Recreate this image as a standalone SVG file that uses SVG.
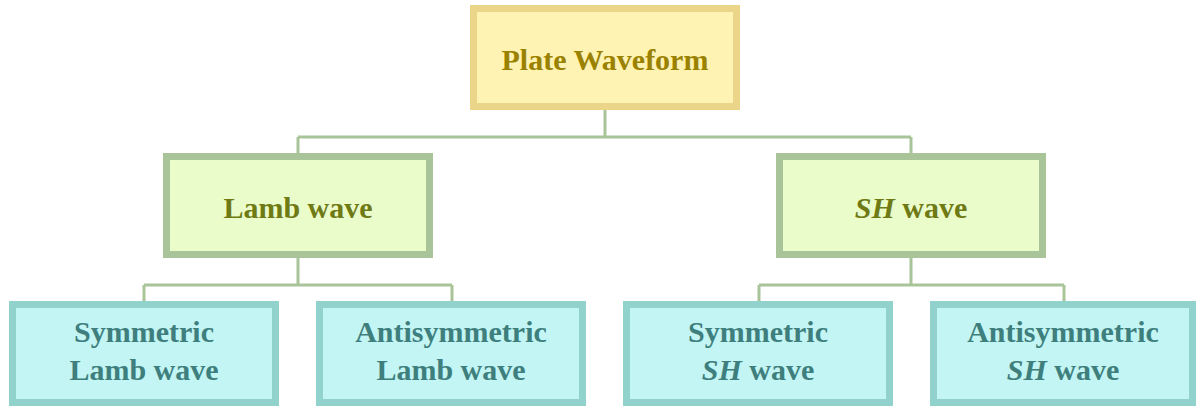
<svg xmlns="http://www.w3.org/2000/svg" width="1197" height="406" viewBox="0 0 1197 406">
<style>
text{font-family:'Liberation Serif','DejaVu Serif',serif;font-weight:700;font-size:30px;text-anchor:middle}
.top rect{fill:#FFF3B3;stroke:#EAD588;stroke-width:7}
.top text{fill:#9A8200}
.mid rect{fill:#EBFCCB;stroke:#A9C499;stroke-width:7}
.mid text{fill:#6F7A14}
.bot rect{fill:#C2F5F3;stroke:#91D2CD;stroke-width:7}
.bot text{fill:#3E7F7E}
.conn{fill:none;stroke:#A9C499;stroke-width:3}
</style>
<rect width="1197" height="406" fill="#FFFFFF"/>
<g id="connectors" class="conn">
<path d="M605 110V137M298 137H911M298 137V153M911 137V153"/>
<path d="M298 258V285M144 285H452M144 285V301M452 285V301"/>
<path d="M911 258V285M759 285H1064M759 285V301M1064 285V301"/>
</g>
<g id="plate" class="top"><rect x="473.5" y="8.5" width="263" height="98"/><text x="605" y="70" font-family="Liberation Serif, serif">Plate Waveform</text></g>
<g id="lamb" class="mid"><rect x="166.5" y="156.5" width="263" height="98"/><text x="298" y="218">Lamb wave</text></g>
<g id="sh" class="mid"><rect x="779.5" y="156.5" width="263" height="98"/><text x="911" y="218"><tspan font-style="italic">SH</tspan> wave</text></g>
<g id="sym-lamb" class="bot"><rect x="12.5" y="304.5" width="263" height="98"/><text x="144" y="342">Symmetric</text><text x="144" y="380">Lamb wave</text></g>
<g id="anti-lamb" class="bot"><rect x="319.5" y="304.5" width="263" height="98"/><text x="451" y="342">Antisymmetric</text><text x="451" y="380">Lamb wave</text></g>
<g id="sym-sh" class="bot"><rect x="626.5" y="304.5" width="263" height="98"/><text x="758" y="342">Symmetric</text><text x="758" y="380"><tspan font-style="italic">SH</tspan> wave</text></g>
<g id="anti-sh" class="bot"><rect x="933.5" y="304.5" width="259" height="98"/><text x="1063" y="342">Antisymmetric</text><text x="1063" y="380"><tspan font-style="italic">SH</tspan> wave</text></g>
</svg>
